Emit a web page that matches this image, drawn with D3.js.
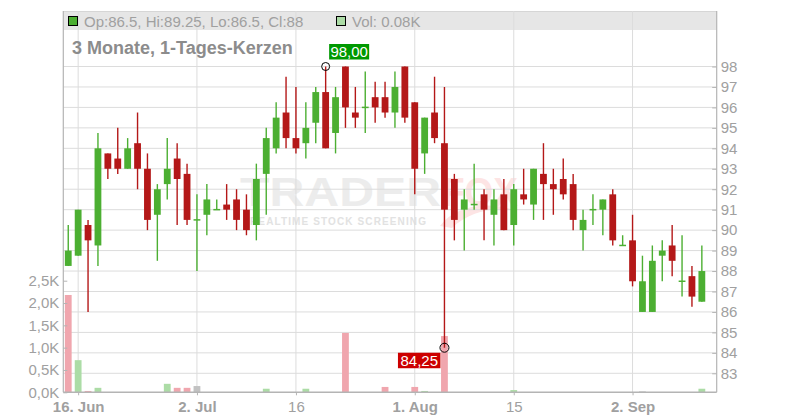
<!DOCTYPE html>
<html><head><meta charset="utf-8">
<script src="https://cdn.jsdelivr.net/npm/d3@7"></script>
<style>
html,body{margin:0;padding:0;background:#fff;}
svg{display:block;font-family:"Liberation Sans",Arial,sans-serif;}
</style>
</head><body>
<svg id="chart" width="800" height="420"></svg>
<script>
// ---------- data ----------
const dates = [
 "2025-06-13","2025-06-16","2025-06-17","2025-06-18","2025-06-19","2025-06-20","2025-06-23","2025-06-24","2025-06-25","2025-06-26","2025-06-27","2025-06-30",
 "2025-07-01","2025-07-02","2025-07-03","2025-07-04","2025-07-07","2025-07-08","2025-07-09","2025-07-10","2025-07-11","2025-07-14","2025-07-15","2025-07-16","2025-07-17","2025-07-18","2025-07-21","2025-07-22","2025-07-23","2025-07-24","2025-07-25","2025-07-28","2025-07-29","2025-07-30","2025-07-31",
 "2025-08-01","2025-08-04","2025-08-05","2025-08-06","2025-08-07","2025-08-08","2025-08-11","2025-08-12","2025-08-13","2025-08-14","2025-08-15","2025-08-18","2025-08-19","2025-08-20","2025-08-21","2025-08-22","2025-08-25","2025-08-26","2025-08-27","2025-08-28","2025-08-29",
 "2025-09-01","2025-09-02","2025-09-03","2025-09-04","2025-09-05","2025-09-08","2025-09-09","2025-09-10","2025-09-11"
];
const open  = [88.25,88.75,90.25,89.25,93.75,93.5,93,94.25,93,90.75,92.25,93.5,
 92.75,90.5,90.75,91,91.25,91.5,91,90.25,92.75,94,95.75,94.5,94.25,95.25,96.75,94.75,98,95.75,96,96.5,96.5,95.75,98,
 96.25,93.75,95.75,94.25,92.5,91,91.25,91.75,90.75,91.75,90.25,91.75,91.25,92.75,92.25,92.5,92.25,90,91,91,91.75,
 89.25,89.5,86,86,88.75,89.25,87.5,87.75,86.5];
const high  = [90.25,91,90.5,94.75,93.75,95,94.5,95.75,93.75,92.25,94.5,94.25,
 93.25,91.75,92.25,91.5,92.25,92,91.75,93.25,95,96.25,97.5,97,96.25,97,98,97,98,97,97.75,97.25,97.25,97.75,98,
 96.25,95.5,97.5,97,92.75,92,93.25,92,92,92.5,92.25,93,93,94.25,93,93.5,92.75,91,91.75,91.5,92,
 89.75,90.75,88.75,89.25,89.5,90.25,89.75,88.25,89.25];
const low   = [88.25,88.75,86,88.25,92.5,92.75,93,92,90,88.5,91.5,90.25,
 90.25,88,89.75,91,90.5,90,89.75,89.5,90.75,93.75,94,93.75,93.5,94.25,94,93.75,95,95,94.75,95.25,95.5,95,95.25,
 91.75,92.75,94.25,84.25,89.5,89,91,89.5,89.25,90,89.25,91.25,90.5,90.5,90.75,91.5,90,89,90.25,89.75,89.25,
 89.25,87.25,86,86,87.5,87.75,86.75,86.25,86.5];
const close = [89,91,89.5,94,93,93,94,93,90.5,92,93,92.5,
 90.5,90.5,91.5,91,91,90.5,90,92.5,94.5,95.5,94.5,94,95,96.75,94,96.5,96,95.5,96,96,95.75,97,95.5,
 93,95.5,94.5,91,90.5,91.5,91.25,91,91.5,90,92,91.5,93,92.25,92,91.75,90.5,90.5,91,91.5,89.5,
 89.25,87.5,87.5,88.5,89,88.5,87.5,86.75,88];
// volume in thousands
const volume = [2.18,0.72,0.03,0.10,0,0,0,0,0,0,0.19,0.10,
 0.10,0.14,0,0,0,0,0,0,0.08,0,0,0,0.08,0,0,0,1.33,0,0,0,0.12,0,0,
 0.12,0.03,0,1.26,0,0,0,0,0,0,0.05,0,0,0,0,0,0,0,0,0,0,
 0,0,0.02,0,0,0,0,0,0.08];
const prevCloseBefore = 89.75; // close of the day before the first candle (estimated)

const priceTicks = d3.range(83, 99);
const volTicks = [0, 0.5, 1, 1.5, 2, 2.5];
const xTickDates  = ["2025-06-16","2025-07-02","2025-07-16","2025-08-01","2025-08-15","2025-09-02"];
const xTickLabels = ["16. Jun","2. Jul","16","1. Aug","15","2. Sep"];
const xTickBold   = [true,true,false,true,false,true];
const titleText = "3 Monate, 1-Tages-Kerzen";

// ---------- layout ----------
const L = 63.3, R = 716.7, T = 11, B = 392.3;
const svg = d3.select("#chart");
const C = {
  up:"#4caf32", down:"#b41818", volUp:"#acdca6", volDown:"#f0a6ae", volFlat:"#c2c2c2",
  grid:"#dcdcdc", axis:"#b4b4b4", text:"#a0a0a0"
};
const deLocale = d3.formatLocale({decimal:",", thousands:".", grouping:[3], currency:["","€"]});
const fmt2 = deLocale.format(".2f");
const fmt1 = deLocale.format(".1f");

const x = d3.scaleLinear().domain([-0.5, dates.length + 0.5]).range([L, R]);
const yP = d3.scaleLinear().domain([83, 98]).range([373.3, 66.5]);
const yV = d3.scaleLinear().domain([0, 2.5]).range([B, 280.7]);
const idxOf = d => dates.indexOf(d);

// header band
svg.append("rect").attr("x", L).attr("y", T).attr("width", R - L).attr("height", 19).attr("fill", "#e6e6e6");
svg.append("line").attr("x1", L).attr("x2", R).attr("y1", T + 0.5).attr("y2", T + 0.5).attr("stroke", "#d6d6d6");

// watermark
const wm = svg.append("g").attr("pointer-events","none");
wm.append("text").attr("x", 240).attr("y", 206).attr("font-size", 40).attr("font-weight", 900)
  .attr("textLength", 201).attr("lengthAdjust","spacingAndGlyphs").attr("fill", "#ececec").text("TRADER");
wm.append("text").attr("x", 442).attr("y", 206).attr("font-size", 40).attr("font-weight", 900)
  .attr("textLength", 76).attr("lengthAdjust","spacingAndGlyphs").attr("fill", "#fde4e4").text("FOX");
wm.append("path").attr("d","M440,226 C455,205 490,200 520,212 C500,205 470,210 452,228 Z").attr("fill","#fde4e4");
wm.append("text").attr("x", 250).attr("y", 225).attr("font-size", 10).attr("font-weight", 700)
  .attr("textLength", 176).attr("lengthAdjust","spacing").attr("fill", "#e2e2e2").text("REALTIME STOCK SCREENING");

// grid
svg.append("g").selectAll("line").data(priceTicks).join("line")
  .attr("x1", L).attr("x2", R).attr("y1", d => yP(d)).attr("y2", d => yP(d))
  .attr("stroke", C.grid).attr("stroke-width", 1);
svg.append("g").selectAll("line").data(xTickDates).join("line")
  .attr("x1", d => x(idxOf(d))).attr("x2", d => x(idxOf(d))).attr("y1", T).attr("y2", B)
  .attr("stroke", C.grid).attr("stroke-width", 1);

// volume bars
const bw = 6.8;
const volDir = i => {
  const pc = i === 0 ? prevCloseBefore : close[i - 1];
  return close[i] > pc ? C.volUp : (close[i] < pc ? C.volDown : C.volFlat);
};
svg.append("g").selectAll("rect").data(d3.range(dates.length).filter(i => volume[i] > 0)).join("rect")
  .attr("x", i => x(i) - bw / 2).attr("width", bw)
  .attr("y", i => yV(volume[i])).attr("height", i => yV(0) - yV(volume[i]))
  .attr("fill", i => volDir(i));

// candles
const cg = svg.append("g");
const idx = d3.range(dates.length);
const col = i => close[i] >= open[i] ? C.up : C.down;
cg.selectAll("line.wick").data(idx).join("line").attr("class","wick")
  .attr("x1", i => x(i)).attr("x2", i => x(i))
  .attr("y1", i => yP(high[i])).attr("y2", i => yP(low[i]))
  .attr("stroke", col).attr("stroke-width", 1.4);
cg.selectAll("rect.body").data(idx.filter(i => open[i] !== close[i])).join("rect").attr("class","body")
  .attr("x", i => x(i) - bw / 2).attr("width", bw)
  .attr("y", i => yP(Math.max(open[i], close[i])))
  .attr("height", i => Math.abs(yP(open[i]) - yP(close[i])))
  .attr("fill", col);
cg.selectAll("line.doji").data(idx.filter(i => open[i] === close[i])).join("line").attr("class","doji")
  .attr("x1", i => x(i) - bw / 2).attr("x2", i => x(i) + bw / 2)
  .attr("y1", i => yP(close[i])).attr("y2", i => yP(close[i]))
  .attr("stroke", col).attr("stroke-width", 1.5);

// axes lines
svg.append("line").attr("x1", L).attr("x2", L).attr("y1", T).attr("y2", B).attr("stroke", C.axis).attr("stroke-width", 1.2);
svg.append("line").attr("x1", R).attr("x2", R).attr("y1", T).attr("y2", B).attr("stroke", C.axis).attr("stroke-width", 1.2);
svg.append("line").attr("x1", L).attr("x2", R).attr("y1", B).attr("y2", B).attr("stroke", C.axis).attr("stroke-width", 1.4);

// right price axis
const ra = svg.append("g").attr("transform", `translate(${R},0)`)
  .call(d3.axisRight(yP).tickValues(priceTicks).tickFormat(d3.format("d")).tickSizeInner(-4.5).tickSizeOuter(0).tickPadding(4));
ra.select(".domain").remove();
ra.selectAll("line").attr("stroke", C.axis);
ra.selectAll("text").attr("fill", C.text).attr("font-size", 15).attr("font-family", '"Liberation Sans",Arial,sans-serif');

// left volume axis
const la = svg.append("g").attr("transform", `translate(${L},0)`)
  .call(d3.axisLeft(yV).tickValues(volTicks).tickFormat(d => fmt1(d) + "K").tickSizeInner(-4).tickSizeOuter(0).tickPadding(4));
la.select(".domain").remove();
la.selectAll("line").attr("stroke", C.axis);
la.selectAll("text").attr("fill", C.text).attr("font-size", 15).attr("font-family", '"Liberation Sans",Arial,sans-serif');

// bottom axis
const ba = svg.append("g").attr("transform", `translate(0,${B})`)
  .call(d3.axisBottom(x).tickValues(xTickDates.map(idxOf)).tickFormat((d, i) => xTickLabels[i]).tickSizeInner(3).tickSizeOuter(0).tickPadding(6));
ba.select(".domain").remove();
ba.selectAll("line").attr("stroke", C.axis);
ba.selectAll("text").attr("fill", C.text).attr("font-size", 15).attr("font-family", '"Liberation Sans",Arial,sans-serif')
  .attr("font-weight", (d, i) => xTickBold[i] ? 700 : 400);

// header info
const last = dates.length - 1;
svg.append("rect").attr("x", 68.5).attr("y", 16.5).attr("width", 9).attr("height", 9).attr("fill", C.up).attr("stroke", "#000");
svg.append("text").attr("x", 84).attr("y", 26.5).attr("font-size", 15).attr("fill", "#a0a0a0")
  .text(`Op:${open[last]}, Hi:${high[last]}, Lo:${low[last]}, Cl:${close[last]}`);
svg.append("rect").attr("x", 336.5).attr("y", 16.5).attr("width", 9).attr("height", 9).attr("fill", C.volUp).attr("stroke", "#000");
svg.append("text").attr("x", 352).attr("y", 26.5).attr("font-size", 15).attr("fill", "#a0a0a0")
  .text(`Vol: ${d3.format(".2f")(volume[last])}K`);

// title
svg.append("text").attr("x", 72).attr("y", 54).attr("font-size", 18).attr("font-weight", 700).attr("fill", "#8c8c8c").text(titleText);

// high / low markers
const maxH = d3.max(high), minL = d3.min(low);
const iH = high.indexOf(maxH), iL = low.indexOf(minL);
const mk = svg.append("g");
mk.append("circle").attr("cx", x(iH)).attr("cy", yP(maxH)).attr("r", 4).attr("fill", "none").attr("stroke", "#000").attr("stroke-width", 1);
mk.append("rect").attr("x", x(iH) + 3.5).attr("y", yP(maxH) - 22.5).attr("width", 40).attr("height", 15.5).attr("fill", "#009900");
mk.append("text").attr("x", x(iH) + 23.5).attr("y", yP(maxH) - 9.5).attr("text-anchor", "middle").attr("font-size", 15).attr("fill", "#fff").text(fmt2(maxH));
mk.append("circle").attr("cx", x(iL)).attr("cy", yP(minL)).attr("r", 4.5).attr("fill", "none").attr("stroke", "#000").attr("stroke-width", 1);
mk.append("rect").attr("x", x(iL) - 46.5).attr("y", yP(minL) + 5).attr("width", 42.5).attr("height", 15.5).attr("fill", "#cc0000");
mk.append("text").attr("x", x(iL) - 25.2).attr("y", yP(minL) + 18).attr("text-anchor", "middle").attr("font-size", 15).attr("fill", "#fff").text(fmt2(minL));
</script>
</body></html>
